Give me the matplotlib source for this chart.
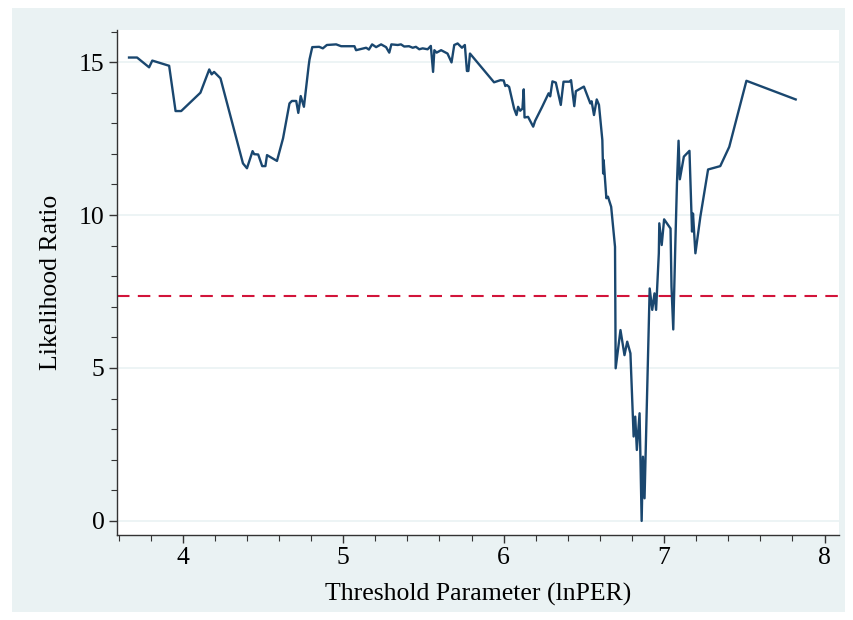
import numpy as np
import matplotlib
matplotlib.use("Agg")
import matplotlib.pyplot as plt
from matplotlib.patches import Rectangle
from matplotlib.ticker import MultipleLocator

# threshold grid (lnPER) and likelihood ratio statistic
threshold = [
    3.665, 3.715, 3.79, 3.81, 3.915, 3.955, 3.99, 4.11, 4.165, 4.18,
    4.195, 4.235, 4.375, 4.40, 4.435, 4.445, 4.47, 4.495, 4.515, 4.525,
    4.587, 4.625, 4.665, 4.68, 4.707, 4.72, 4.735, 4.755, 4.785, 4.79,
    4.807, 4.85, 4.873, 4.898, 4.956, 4.987, 5.07, 5.08, 5.143, 5.16,
    5.18, 5.205, 5.236, 5.267, 5.287, 5.30, 5.34, 5.36, 5.38, 5.41,
    5.433, 5.453, 5.474, 5.495, 5.526, 5.546, 5.56, 5.568, 5.582, 5.61,
    5.65, 5.675, 5.692, 5.713, 5.74, 5.758, 5.771, 5.78, 5.79, 5.94,
    5.98, 6.0, 6.01, 6.02, 6.034, 6.065, 6.08, 6.09, 6.103, 6.117,
    6.125, 6.13, 6.152, 6.184, 6.196, 6.24, 6.28, 6.29, 6.304, 6.325,
    6.356, 6.373, 6.41, 6.42, 6.44, 6.45, 6.5, 6.54, 6.548, 6.563,
    6.58, 6.594, 6.615, 6.62, 6.623, 6.64, 6.65, 6.67, 6.694, 6.698,
    6.728, 6.753, 6.77, 6.79, 6.81, 6.82, 6.83, 6.847, 6.86, 6.868,
    6.878, 6.91, 6.926, 6.94, 6.95, 6.967, 6.97, 6.985, 7.0, 7.04,
    7.046, 7.057, 7.07, 7.08, 7.09, 7.098, 7.123, 7.158, 7.17, 7.174,
    7.18, 7.195, 7.226, 7.274, 7.35, 7.406, 7.513, 7.82,
]
lr_stat = [
    15.15, 15.15, 14.83, 15.05, 14.88, 13.40, 13.40, 14.00, 14.76, 14.60,
    14.68, 14.47, 11.69, 11.53, 12.09, 11.99, 11.98, 11.60, 11.60, 11.96,
    11.77, 12.51, 13.65, 13.73, 13.73, 13.34, 13.89, 13.54, 14.90, 15.09,
    15.49, 15.50, 15.45, 15.56, 15.58, 15.52, 15.52, 15.39, 15.47, 15.41,
    15.58, 15.49, 15.58, 15.49, 15.31, 15.58, 15.56, 15.58, 15.51, 15.52,
    15.47, 15.50, 15.42, 15.45, 15.42, 15.53, 14.68, 15.39, 15.31, 15.39,
    15.28, 14.99, 15.56, 15.61, 15.47, 15.56, 14.71, 14.71, 15.28, 14.34,
    14.41, 14.40, 14.22, 14.25, 14.19, 13.48, 13.27, 13.54, 13.41, 13.48,
    14.11, 13.19, 13.21, 12.89, 13.08, 13.54, 13.98, 13.88, 14.37, 14.33,
    13.60, 14.36, 14.36, 14.41, 13.56, 14.05, 14.20, 13.65, 13.72, 13.27,
    13.78, 13.60, 12.45, 11.36, 11.80, 10.55, 10.60, 10.27, 8.96, 4.99,
    6.24, 5.42, 5.86, 5.48, 2.76, 3.41, 2.32, 3.52, 0.00, 2.10,
    0.74, 7.60, 6.90, 7.44, 6.90, 8.75, 9.73, 9.02, 9.86, 9.56,
    7.66, 6.26, 9.07, 11.03, 12.43, 11.17, 11.91, 12.10, 10.05, 9.46,
    10.05, 8.75, 9.95, 11.49, 11.60, 12.23, 14.39, 13.78,
]
critical_value = 7.35

y_major = [0, 5, 10, 15]
x_major = [4, 5, 6, 7, 8]

plt.rcParams["font.family"] = ["Liberation Serif", "DejaVu Serif"]

W, H = 854, 620
fig = plt.figure(figsize=(W / 100, H / 100), dpi=100)
fig.patch.set_facecolor("white")

# stata-like outer graph region (drawn behind the axes)
fig.patches.append(Rectangle((12 / W, 8 / H), (845 - 12) / W, (612 - 8) / H,
                             transform=fig.transFigure, facecolor="#EAF2F3",
                             edgecolor="none", zorder=-10))

ax = fig.add_axes([117 / W, 1 - 535 / H, (839 - 117) / W, (535 - 30) / H])
ax.set_facecolor("white")

for v in y_major:
    ax.axhline(v, color="#EAF2F3", lw=1.2, zorder=1)

ax.axhline(critical_value, color="#D2143A", lw=1.5, ls=(0, (6, 4)), zorder=2)
ax.plot(threshold, lr_stat, color="#1A476F", lw=1.7, zorder=3)

ax.set_xlim(3.59, 8.09)
ax.set_ylim(-0.46, 16.05)

ax.xaxis.set_major_locator(plt.FixedLocator(x_major))
ax.xaxis.set_minor_locator(MultipleLocator(0.2))
ax.yaxis.set_major_locator(plt.FixedLocator(y_major))
ax.yaxis.set_minor_locator(MultipleLocator(1))

for side in ["top", "right"]:
    ax.spines[side].set_visible(False)
for side in ["left", "bottom"]:
    ax.spines[side].set_color("#333333")
    ax.spines[side].set_linewidth(1.0)

ax.tick_params(which="major", length=6, width=1, color="#333333",
               labelsize=18.5, pad=3)
ax.tick_params(which="minor", length=4, width=0.8, color="#333333")

ax.set_xlabel("Threshold Parameter (lnPER)", fontsize=18.5, labelpad=10)
ax.set_ylabel("Likelihood Ratio", fontsize=18.5, labelpad=12)

fig.savefig("out.png", dpi=100)
